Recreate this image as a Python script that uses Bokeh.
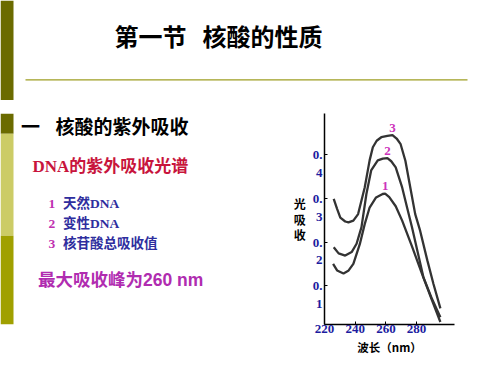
from bokeh.plotting import figure
from bokeh.layouts import column, row
from bokeh.models import Range1d, FixedTicker, Label, BoxAnnotation
from bokeh.embed import file_html
from bokeh.resources import INLINE

# ---- data ----
wl_native = [225.6, 228.2, 232.4, 235.5, 238.8, 243.0, 246.2, 249.4, 253.6, 257.9, 259.5, 262.2, 266.4, 270.6, 277.0, 284.5, 290.0, 295.5]
abs_native = [0.150, 0.135, 0.128, 0.134, 0.150, 0.195, 0.241, 0.279, 0.302, 0.310, 0.311, 0.303, 0.282, 0.249, 0.190, 0.118, 0.067, 0.017]

wl_denatured = [226.0, 229.2, 233.5, 237.7, 240.9, 244.1, 247.3, 250.4, 254.7, 258.0, 261.0, 263.5, 266.4, 270.6, 273.8, 277.0, 280.5, 284.5, 290.0, 295.5]
abs_denatured = [0.188, 0.174, 0.169, 0.177, 0.196, 0.234, 0.310, 0.364, 0.387, 0.391, 0.392, 0.385, 0.371, 0.325, 0.279, 0.234, 0.180, 0.119, 0.070, 0.028]

wl_total = [226.0, 228.2, 230.3, 233.5, 235.6, 238.8, 241.9, 246.2, 249.4, 251.5, 254.0, 257.0, 261.0, 264.3, 267.0, 269.6, 272.7, 275.9, 279.1, 282.3, 287.0, 291.0, 295.5]
abs_total = [0.299, 0.276, 0.256, 0.247, 0.245, 0.249, 0.264, 0.325, 0.387, 0.417, 0.432, 0.440, 0.443, 0.445, 0.437, 0.424, 0.386, 0.325, 0.264, 0.226, 0.158, 0.104, 0.048]

curve_numbers = ["1", "2", "3"]
curve_names = ["天然DNA", "变性DNA", "核苷酸总吸收值"]

x_ticks = [220, 240, 260, 280]
x_tick_labels = ["220", "240", "260", "280"]
y_ticks = [0.1, 0.2, 0.3, 0.4]
y_tick_labels = ["0.\n1", "0.\n2", "0.\n3", "0.\n4"]

title_parts = ["第一节", "核酸的性质"]
section_mark = "一"
section_text = "核酸的紫外吸收"
subtitle_text = "DNA的紫外吸收光谱"
note_text = "最大吸收峰为260 nm"
x_axis_label = "波长（nm）"
y_axis_label = "光\n吸\n收"

# ---- styles ----
TICK_BLUE = "#1c1ca0"
SERIF = "Liberation Serif"
CJK = "Noto Sans CJK SC"
MIX_SERIF = "'Liberation Serif', 'Noto Sans CJK SC'"
MIX_SANS = "'Liberation Sans', 'Noto Sans CJK SC'"
BAR_DARK, BAR_LIGHT, BAR_MID = "#6b6b00", "#cccc66", "#a0a000"


def blank_fig(w, h, xr, yr):
    f = figure(width=w, height=h, x_range=Range1d(*xr), y_range=Range1d(*yr),
               output_backend="svg", toolbar_location=None, title=None,
               x_axis_location=None, y_axis_location=None,
               min_border_left=0, min_border_right=0, min_border_top=0, min_border_bottom=0)
    f.xgrid.visible = False
    f.ygrid.visible = False
    f.outline_line_color = None
    f.background_fill_color = "white"
    f.border_fill_color = "white"
    return f


def box(f, l, r, t, b, color):
    f.add_layout(BoxAnnotation(left=l, right=r, top=t, bottom=b, fill_color=color, fill_alpha=1.0,
                               line_color=None, level="underlay"))


def label(f, x, y, text, size, color="black", font=CJK, align="left", style="bold"):
    f.add_layout(Label(x=x, y=y, text=text, text_align=align, text_baseline="middle",
                       text_font=font, text_font_size=size, text_font_style=style, text_color=color))


# ---- top strip: title and rule (page pixel coordinates) ----
top = blank_fig(484, 100, (0, 484), (100, 0))
box(top, 0, 13, 0, 100, BAR_DARK)
box(top, 25, 467, 78.8, 80.0, "#9e9e22")
label(top, 114, 35, title_parts[0], "24px")
label(top, 202, 35, title_parts[1], "24px")

# ---- left text panel (page pixel coordinates) ----
left = blank_fig(290, 259, (0, 290), (359, 100))
box(left, 0, 13, 100, 125, BAR_DARK)
box(left, 0, 13, 125, 250, BAR_LIGHT)
box(left, 0, 13, 250, 359, BAR_MID)
label(left, 20.5, 115, section_mark, "19px")
label(left, 55, 115, section_text, "19px")
label(left, 32, 165, subtitle_text, "17px", color="#c8143c", font=MIX_SERIF)
for i, (num, name) in enumerate(zip(curve_numbers, curve_names)):
    yy = 210.7 + 24.7 * i
    label(left, 48, yy, num, "13.5px", color="#c030b0", font=SERIF)
    label(left, 62.5, yy, name, "13.5px", color="#2e2e9e", font=MIX_SERIF)
label(left, 37.5, 304, note_text, "17.5px", color="#b02cb0", font=MIX_SANS)

# ---- chart ----
p = figure(width=194, height=259, x_range=Range1d(220, 304.7), y_range=Range1d(0.0112, 0.4943),
           output_backend="svg", toolbar_location=None, title=None,
           min_border_left=31, min_border_right=30, min_border_top=13, min_border_bottom=35)
p.xgrid.visible = False
p.ygrid.visible = False
p.outline_line_color = None
p.background_fill_color = "white"
p.border_fill_color = "white"

xa = p.xaxis[0]
xa.ticker = FixedTicker(ticks=x_ticks)
xa.major_label_overrides = {t: l for t, l in zip(x_ticks, x_tick_labels)}
xa.major_tick_in = 3
xa.major_tick_out = 0
xa.minor_tick_in = 0
xa.minor_tick_out = 0
xa.axis_line_width = 1.5
xa.axis_line_color = "black"
xa.major_tick_line_color = "black"
xa.major_label_text_font = SERIF
xa.major_label_text_font_size = "13px"
xa.major_label_text_font_style = "bold"
xa.major_label_text_color = TICK_BLUE
xa.major_label_standoff = 0
xa.axis_label = x_axis_label
xa.axis_label_text_font = CJK
xa.axis_label_text_font_size = "11.5px"
xa.axis_label_text_font_style = "bold"
xa.axis_label_text_color = "black"
xa.axis_label_standoff = 3

ya = p.yaxis[0]
ya.ticker = FixedTicker(ticks=y_ticks)
ya.major_label_overrides = {t: "\n" + l for t, l in zip(y_ticks, y_tick_labels)}
ya.major_tick_in = 3
ya.major_tick_out = 0
ya.minor_tick_in = 0
ya.minor_tick_out = 0
ya.axis_line_width = 1.5
ya.axis_line_color = "black"
ya.major_tick_line_color = "black"
ya.major_label_text_font = SERIF
ya.major_label_text_font_size = "13px"
ya.major_label_text_font_style = "bold"
ya.major_label_text_color = TICK_BLUE
ya.major_label_text_line_height = 1.18
ya.major_label_standoff = 2
ya.axis_label = y_axis_label
ya.axis_label_orientation = "horizontal"
ya.axis_label_text_font = CJK
ya.axis_label_text_font_size = "12px"
ya.axis_label_text_font_style = "bold"
ya.axis_label_text_color = "black"
ya.axis_label_text_line_height = 0.9
ya.axis_label_standoff = 4

curves = [(wl_native, abs_native), (wl_denatured, abs_denatured), (wl_total, abs_total)]
for (xs, ys), num in zip(curves, curve_numbers):
    p.line(xs, ys, line_color="#333333", line_width=2.3)
    k = max(range(len(ys)), key=lambda i: ys[i])
    p.add_layout(Label(x=xs[k], y=ys[k] + 0.017, text=num, text_align="center", text_baseline="middle",
                       text_font=SERIF, text_font_size="13px", text_font_style="bold", text_color="#cc33bb"))

layout = column(top, row(left, p, spacing=0), spacing=0)
open("out.html", "w").write(file_html(layout, INLINE))
